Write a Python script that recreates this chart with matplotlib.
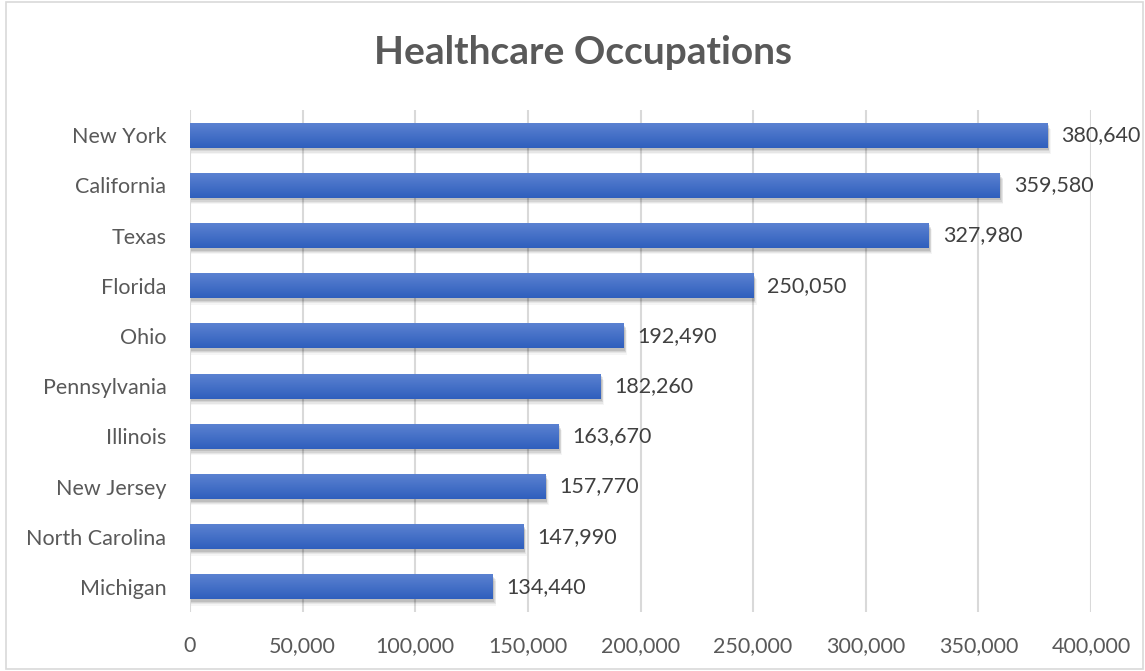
import matplotlib
matplotlib.use("Agg")
import matplotlib.pyplot as plt
import numpy as np
from matplotlib.patches import Rectangle
from matplotlib.ticker import FuncFormatter
from matplotlib.colors import LinearSegmentedColormap

states = ["New York", "California", "Texas", "Florida", "Ohio", "Pennsylvania",
          "Illinois", "New Jersey", "North Carolina", "Michigan"]
values = [380640, 359580, 327980, 250050, 192490, 182260, 163670, 157770, 147990, 134440]
xticks = [0, 50000, 100000, 150000, 200000, 250000, 300000, 350000, 400000]
title = "Healthcare Occupations"

plt.rcParams['font.family'] = ['Lato', 'DejaVu Sans']

W, H = 1145, 671
fig = plt.figure(figsize=(W / 100, H / 100), dpi=100)
# outer chart border
fig.patches.append(Rectangle((6 / W, 2 / H), (W - 8) / W, (H - 4) / H, transform=fig.transFigure,
                             fill=False, edgecolor="#D9D9D9", linewidth=1.2))

ax = fig.add_axes([190 / W, 1 - 612 / H, (1091 - 190) / W, (612 - 110) / H])
ax.set_xlim(0, 400000)
ax.set_ylim(len(states) - 0.5, -0.5)

ypos = np.arange(len(states))
bh = 0.5

# soft shadows below bars
for y, v in zip(ypos, values):
    for k, a in enumerate([0.10, 0.08, 0.06, 0.04]):
        ax.add_patch(Rectangle((300, y - bh / 2 + 0.05 + k * 0.025), v + 300 + k * 300, bh,
                               facecolor="black", alpha=a, edgecolor="none", zorder=2))

bars = ax.barh(ypos, values, height=bh, color="#4472C4", zorder=3)
grad = np.linspace(0, 1, 64).reshape(-1, 1)
cmap = LinearSegmentedColormap.from_list("g", ["#5D83D2", "#2F5FBD"])
for b in bars:
    x0, y0 = b.get_x(), b.get_y()
    w, h = b.get_width(), b.get_height()
    im = ax.imshow(grad, extent=(x0, x0 + w, y0 + h, y0), aspect="auto", cmap=cmap,
                   zorder=4, origin="upper")
    im.set_clip_path(b)

for y, v in zip(ypos, values):
    ax.annotate(f"{v:,}", xy=(v, y), xytext=(10, 0), textcoords="offset points",
                va="center", ha="left", fontsize=15.5, color="#404040", zorder=5)

ax.set_xticks(xticks)
ax.xaxis.set_major_formatter(FuncFormatter(lambda x, p: f"{int(x):,}"))
ax.set_yticks(ypos)
ax.set_yticklabels(states)
ax.tick_params(axis="both", length=0, labelsize=15.5, labelcolor="#595959")
ax.tick_params(axis="x", pad=17)
ax.tick_params(axis="y", pad=17)
ax.grid(axis="x", color="#D9D9D9", linewidth=1.5, zorder=0)
ax.set_axisbelow(True)
for s in ax.spines.values():
    s.set_visible(False)
ax.set_xlim(0, 400000)
ax.set_ylim(len(states) - 0.5, -0.5)

fig.text(583 / W, 1 - 53 / H, title, ha="center", va="center", fontsize=28,
         fontweight="bold", color="#595959")

fig.savefig("out.png", dpi=100)
